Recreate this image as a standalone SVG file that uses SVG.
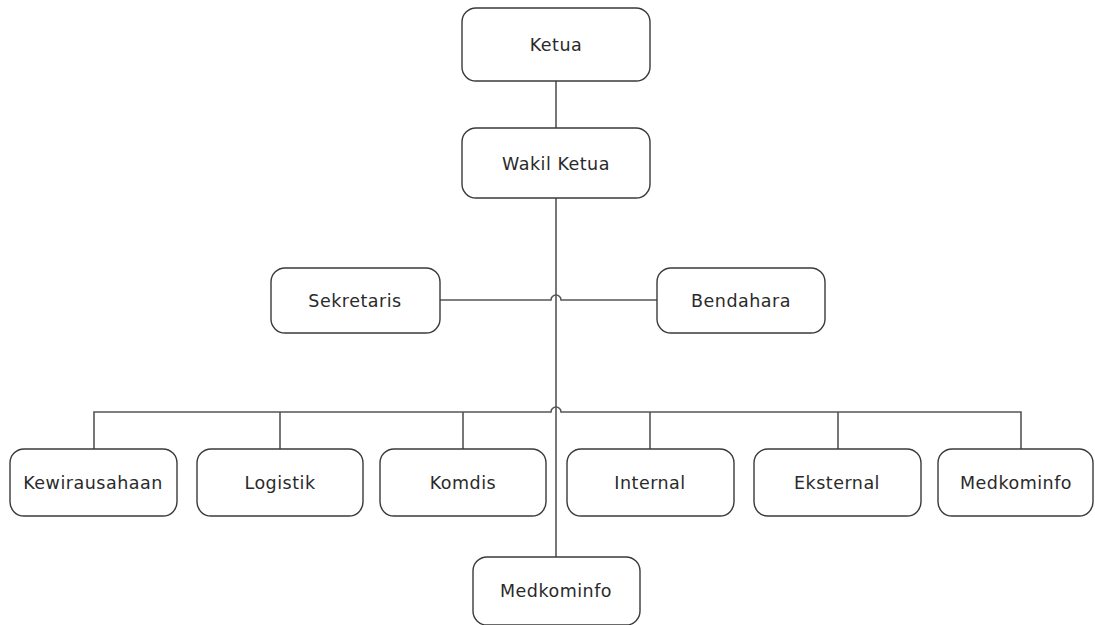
<svg xmlns="http://www.w3.org/2000/svg" width="1095" height="625" viewBox="0 0 1095 625">
<style>
.box{fill:#fff;stroke:#3a3a3a;stroke-width:1.4}
.lbl{font-family:"DejaVu Sans",sans-serif;font-size:17.5px;fill:#2a2a2a;text-anchor:middle;letter-spacing:0.5px}
.ln{fill:none;stroke:#555;stroke-width:1.6}
</style>
<rect width="1095" height="625" fill="#fff"/>
<g id="connectors">
<path class="ln" d="M556 81V128"/>
<path class="ln" d="M556 198V557"/>
<path class="ln" d="M440 300H551a5 5 0 0 1 10 0H657"/>
<path class="ln" d="M94 449V412H551a5 5 0 0 1 10 0H1021V449"/>
<path class="ln" d="M280 412V449M463 412V449M650 412V449M838 412V449"/>
</g>
<g id="ketua"><rect class="box" x="462" y="8" width="188" height="73" rx="14"/><text class="lbl" x="556" y="51">Ketua</text></g>
<g id="wakil"><rect class="box" x="462" y="128" width="188" height="70" rx="14"/><text class="lbl" x="556" y="170">Wakil Ketua</text></g>
<g id="sekretaris"><rect class="box" x="271" y="268" width="169" height="65" rx="14"/><text class="lbl" x="355" y="307">Sekretaris</text></g>
<g id="bendahara"><rect class="box" x="657" y="268" width="168" height="65" rx="14"/><text class="lbl" x="741" y="307">Bendahara</text></g>
<g id="kewirausahaan"><rect class="box" x="10" y="449" width="167" height="67" rx="14"/><text class="lbl" x="93" y="489">Kewirausahaan</text></g>
<g id="logistik"><rect class="box" x="197" y="449" width="166" height="67" rx="14"/><text class="lbl" x="280" y="489">Logistik</text></g>
<g id="komdis"><rect class="box" x="380" y="449" width="166" height="67" rx="14"/><text class="lbl" x="463" y="489">Komdis</text></g>
<g id="internal"><rect class="box" x="567" y="449" width="167" height="67" rx="14"/><text class="lbl" x="650" y="489">Internal</text></g>
<g id="eksternal"><rect class="box" x="754" y="449" width="167" height="67" rx="14"/><text class="lbl" x="837" y="489">Eksternal</text></g>
<g id="medkominfo1"><rect class="box" x="938" y="449" width="155" height="67" rx="14"/><text class="lbl" x="1016" y="489">Medkominfo</text></g>
<g id="medkominfo2"><rect class="box" x="473" y="557" width="167" height="68" rx="14"/><text class="lbl" x="556" y="597">Medkominfo</text></g>
</svg>
